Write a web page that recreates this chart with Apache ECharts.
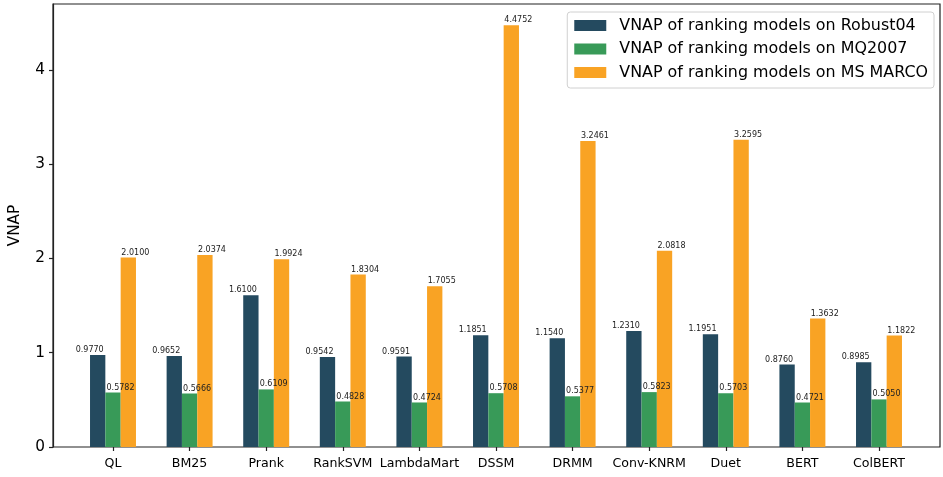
<!DOCTYPE html>
<html>
<head>
<meta charset="utf-8">
<script src="https://cdn.jsdelivr.net/npm/echarts@6/dist/echarts.min.js"></script>
<style>html,body{margin:0;padding:0;background:#fff;}#c{width:943px;height:477px;}</style>
</head>
<body>
<div id="c"></div>
<script>
const categories = ['QL','BM25','Prank','RankSVM','LambdaMart','DSSM','DRMM','Conv-KNRM','Duet','BERT','ColBERT'];
const robust04 = [0.9770,0.9652,1.6100,0.9542,0.9591,1.1851,1.1540,1.2310,1.1951,0.8760,0.8985];
const mq2007 = [0.5782,0.5666,0.6109,0.4828,0.4724,0.5708,0.5377,0.5823,0.5703,0.4721,0.5050];
const msmarco = [2.0100,2.0374,1.9924,1.8304,1.7055,4.4752,3.2461,2.0818,3.2595,1.3632,1.1822];
const seriesNames = ['VNAP of ranking models on Robust04','VNAP of ranking models on MQ2007','VNAP of ranking models on MS MARCO'];
const yTicks = [0,1,2,3,4];

const FONT = 'DejaVu Sans';
const colors = ['#244a5f','#389a58','#f9a324'];
const labelOffsets = [[-8,0],[7.5,0],[7,0]];
const bandW = 76.6;
const plotL = 49, plotR = 940, plotT = 4, plotB = 447;
const firstCenter = 113;
const innerL = firstCenter - bandW/2;
const innerW = bandW * categories.length;
const yMax = 4.70;

const chart = echarts.init(document.getElementById('c'), null, {renderer:'canvas'});
const mk = (name, data, i) => ({
  name, type:'bar', data, xAxisIndex:1, yAxisIndex:1,
  barWidth: bandW*0.2, barGap:'0%',
  itemStyle:{color:colors[i]},
  label:{show:true, position:'top', distance:1, offset:labelOffsets[i],
    formatter:p=>p.value.toFixed(4), fontFamily:FONT, fontSize:8, color:'#222'}
});
chart.setOption({
  animation:false,
  textStyle:{fontFamily:FONT},
  grid:[
    {left:plotL, top:plotT, width:plotR-plotL, height:plotB-plotT, show:true, borderColor:'#222', borderWidth:1.2, backgroundColor:'transparent'},
    {left:innerL, top:plotT, width:innerW, height:plotB-plotT}
  ],
  legend:{
    data:seriesNames, orient:'vertical', right:9, top:12, icon:'rect',
    itemWidth:32, itemHeight:11, itemGap:7.5,
    backgroundColor:'rgba(255,255,255,0.85)', borderColor:'#d0d0d0', borderWidth:1, borderRadius:3,
    padding:[5.5,6,7.5,7],
    textStyle:{fontFamily:FONT, fontSize:15.9, color:'#000', padding:[0,0,0,8], lineHeight:11},
    itemStyle:{borderWidth:0}
  },
  xAxis:[
    {type:'value', gridIndex:0, min:0, max:1, show:false},
    {type:'category', gridIndex:1, data:categories, boundaryGap:true,
      axisLine:{show:false},
      axisTick:{show:true, alignWithLabel:true, length:4, lineStyle:{color:'#222', width:1.2}},
      axisLabel:{fontFamily:FONT, fontSize:12.6, color:'#000', margin:10, interval:0},
      splitLine:{show:false}}
  ],
  yAxis:[
    {type:'value', gridIndex:0, min:0, max:yMax, interval:1,
      name:'VNAP', nameLocation:'middle', nameGap:30, nameRotate:90,
      nameTextStyle:{fontFamily:FONT, fontSize:15.3, color:'#000'},
      axisLine:{show:true, lineStyle:{color:'#222', width:1.2}},
      axisTick:{show:true, length:4, customValues:yTicks, lineStyle:{color:'#222', width:1.2}},
      axisLabel:{fontFamily:FONT, fontSize:15.3, color:'#000', margin:8, customValues:yTicks,
        formatter:v=>String(v)},
      splitLine:{show:false}},
    {type:'value', gridIndex:1, min:0, max:yMax, show:false, splitLine:{show:false}}
  ],
  series:[mk(seriesNames[0], robust04, 0), mk(seriesNames[1], mq2007, 1), mk(seriesNames[2], msmarco, 2)]
});
</script>
</body>
</html>
